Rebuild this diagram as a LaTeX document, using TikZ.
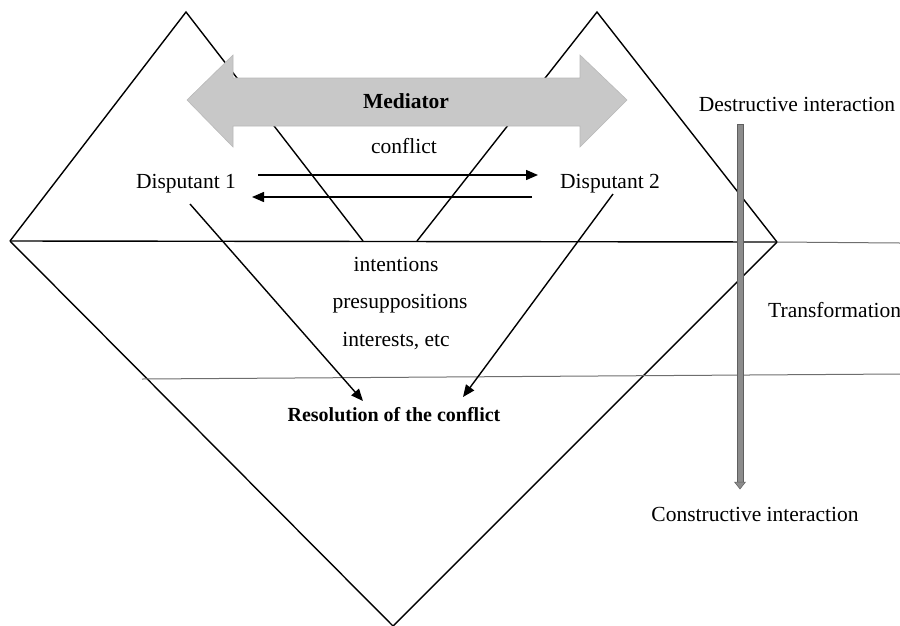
\documentclass[tikz,border=0pt]{standalone}
\usepackage{fontspec}
\setmainfont{Liberation Serif}
\usetikzlibrary{arrows.meta}
\definecolor{arrowfill}{RGB}{200,200,200}
\definecolor{arrowedge}{RGB}{185,185,185}
\definecolor{barfill}{RGB}{140,140,140}
\definecolor{baredge}{RGB}{95,95,95}
\definecolor{thingray}{RGB}{110,110,110}
\begin{document}
\begin{tikzpicture}[x=1pt,y=-1pt,
  outline/.style={line width=1.4pt,black,line join=miter},
  thinline/.style={line width=1pt,thingray},
  conn/.style={line width=1.4pt,-{Triangle[length=12pt,width=10pt]}},
  lbl/.style={inner sep=0pt,anchor=base,font=\fontsize{21.5}{25}\selectfont},
  blbl/.style={lbl,font=\fontsize{21.5}{25}\selectfont\bfseries}]
\useasboundingbox (0,0) rectangle (900,625);
% vertices
\coordinate (L) at (10,241);
\coordinate (R) at (777,242);
\coordinate (B) at (393,626);
\coordinate (PL) at (186,12);
\coordinate (PR) at (597,12);
\coordinate (IL) at (363,241);
\coordinate (IR) at (417,241);
% diamond and triangles
\draw[outline] (L) -- (B) -- (R);
\draw[outline] (L) -- (PL) -- (IL);
\draw[outline] (IR) -- (PR) -- (R);
\draw[outline] (L) -- (R);
% horizontal extension lines
\coordinate (Rext) at (900,243);
\coordinate (M1) at (142,379);
\coordinate (M2) at (900,374);
\draw[thinline] (R) -- (Rext);
\draw[thinline] (M1) -- (M2);
% mediator double arrow
\path[fill=arrowfill,draw=arrowedge,line width=0.6pt]
  (187,100) -- (233,55) -- (233,78) -- (580,78) -- (580,55) -- (627,100)
  -- (580,147) -- (580,126) -- (233,126) -- (233,147) -- cycle;
% texts
\node[blbl] (med) at (406,108) {Mediator};
\node[lbl] (conf) at (404,153) {conflict};
\node[lbl] (d1) at (186,188) {Disputant 1};
\node[lbl] (d2) at (610,188) {Disputant 2};
\node[lbl] (int) at (396,271) {intentions};
\node[lbl] (pre) at (400,308) {presuppositions};
\node[lbl] (inter) at (396,346) {interests, etc};
\node[blbl,font=\fontsize{20}{24}\selectfont\bfseries] (res) at (394,421) {Resolution of the conflict};
\node[lbl] (destr) at (797,111) {Destructive interaction};
\node[lbl,anchor=base west] (trans) at (768,317) {Transformation};
\node[lbl] (constr) at (755,521) {Constructive interaction};
% connectors
\coordinate (a1s) at (258,175); \coordinate (a1e) at (538,175);
\coordinate (a2s) at (532,197); \coordinate (a2e) at (252,197);
\draw[conn] (a1s) -- (a1e);
\draw[conn] (a2s) -- (a2e);
\coordinate (d1s) at (190,204); \coordinate (d1e) at (363,401);
\coordinate (d2s) at (613,194); \coordinate (d2e) at (463,397);
\draw[conn] (d1s) -- (d1e);
\draw[conn] (d2s) -- (d2e);
% vertical transformation bar
\coordinate (vt) at (740,124);
\coordinate (vb) at (740,489);
\path[fill=barfill,draw=baredge,line width=0.6pt] (737,124) rectangle (743,482);
\path[fill=barfill,draw=baredge,line width=0.5pt] (734.5,482) -- (745.5,482) -- (vb) -- cycle;
\end{tikzpicture}
\end{document}
